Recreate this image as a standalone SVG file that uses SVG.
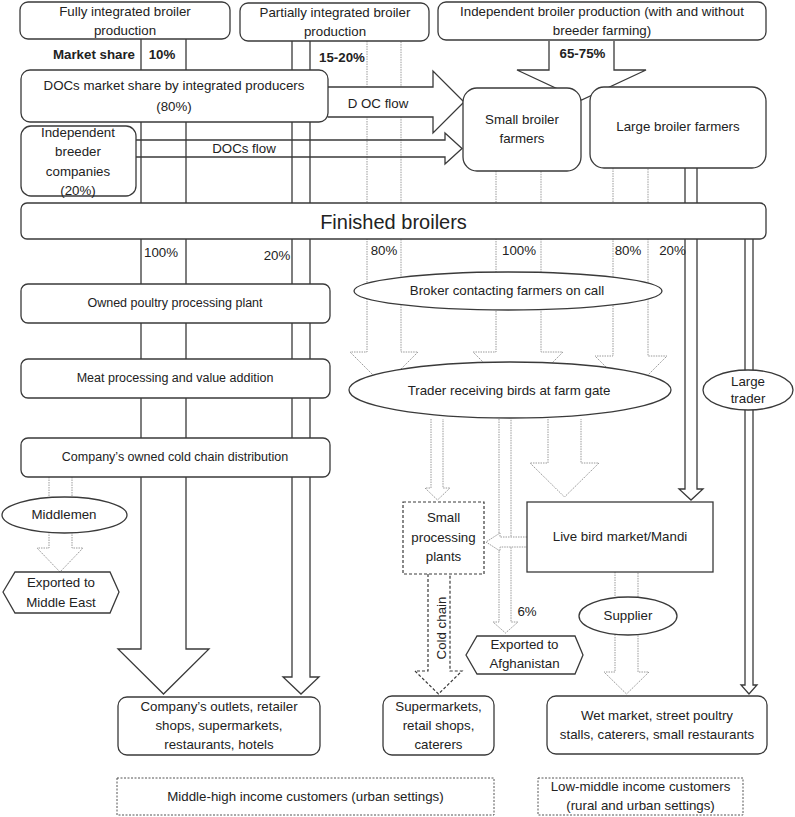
<svg xmlns="http://www.w3.org/2000/svg" width="795" height="817" viewBox="0 0 795 817">
<style>
.box{fill:#fff;stroke:#3a3a3a;stroke-width:1.3}
.dbox{fill:#fff;stroke:#3a3a3a;stroke-width:1.2;stroke-dasharray:3 2}
.ddbox{fill:#fff;stroke:#555;stroke-width:1;stroke-dasharray:2 1.5}
.sa{fill:#fff;stroke:#3a3a3a;stroke-width:1.3}
.sn{fill:none;stroke:#3a3a3a;stroke-width:1.3}
.da{fill:#fff;stroke:#9a9a9a;stroke-width:1;stroke-dasharray:1.5 1}
.ca{fill:#fff;stroke:#3a3a3a;stroke-width:1.2;stroke-dasharray:3 2}
text{font-family:"Liberation Sans",Arial,sans-serif;font-size:13.3px;fill:#222;text-anchor:middle}
.b{font-weight:bold}
.s{font-size:12.5px}
</style>
<rect width="795" height="817" fill="#fff"/>
<g id="connectors">
  <path class="sa" d="M141,39 V649 H118 L163.5,694 L209,649 H186 V39"/>
  <path class="sa" d="M292,39 V677 H283 L301,694 L319,677 H310 V39 Z"/>
  <path class="da" d="M367,41 V352 H350 L384,386 L418,352 H401 V41"/>
  <path class="da" d="M496,171 V352 H473 L518,397 L563,352 H541 V171"/>
  <path class="da" d="M613,168 V356 H595 L631,392 L667,356 H648 V168"/>
  <path class="sa" d="M685,168 V489 H679 L691,500 L703,489 H697 V168"/>
  <path class="sa" d="M745,239 V685 H741 L749,694 L757,685 H753 V239"/>
  <path class="sa" d="M549,41 V70 H517 L581.5,100 L646,70 H614 V41"/>
  <path class="sa" d="M328,87 H433 V71 L464,102 L433,133 V117 H328"/>
  <path class="sn" d="M136,140 H445 V133 L462,148.5 L445,164 V157 H136"/>
  <path class="da" d="M431,419 V488 H425 L437.5,500 L450,488 H443 V419"/>
  <path class="da" d="M548,419 V463 H530 L564.5,497 L599,463 H581 V419"/>
  <path class="da" d="M499,419 V622 H493 L505.5,633 L518,622 H511 V419"/>
  <path class="da" d="M527,537 H500 V533 L486,542 L500,551 V547 H527"/>
  <path class="da" d="M615,572 V672 H604 L626.5,694 L649,672 H638 V572"/>
  <path class="ca" d="M428,574 V671 H415 L438.5,694 L462,671 H450 V574"/>
  <path class="da" d="M49,477 V548 H37 L60,572 L83,548 H72 V477"/>
</g>
<g id="n-fully"><rect class="box" x="20" y="2" width="210" height="37" rx="8"/><text x="125" y="16">Fully integrated broiler</text><text x="125" y="35">production</text></g>
<g id="n-partial"><rect class="box" x="240" y="3" width="189" height="38" rx="8"/><text x="335" y="17">Partially integrated broiler</text><text x="335" y="36">production</text></g>
<g id="n-indep"><rect class="box" x="438" y="2" width="328" height="38" rx="8"/><text x="602" y="16">Independent  broiler production (with and without</text><text x="602" y="35">breeder farming)</text></g>
<g id="l-share"><text class="b" x="94" y="59">Market share</text><text class="b" x="162" y="59">10%</text><text class="b" x="342" y="62">15-20%</text><text class="b" x="582.5" y="58">65-75%</text></g>
<g id="n-docs"><rect class="box" x="21" y="70" width="307" height="52" rx="9"/><text x="174" y="90">DOCs market  share by integrated producers</text><text x="174" y="111">(80%)</text></g>
<g id="l-docflow"><text x="378" y="108">D OC flow</text><text x="244" y="153">DOCs flow</text></g>
<g id="n-breeder"><rect class="box" x="21" y="126" width="115" height="70" rx="10"/><text x="78" y="137">Independent</text><text x="78" y="156">breeder</text><text x="78" y="176">companies</text><text x="78" y="195">(20%)</text></g>
<g id="n-small"><rect class="box" x="463" y="88" width="118" height="83" rx="14"/><text x="522" y="124">Small broiler</text><text x="522" y="143">farmers</text></g>
<g id="n-large"><rect class="box" x="590" y="87" width="176" height="81" rx="14"/><text x="678" y="131">Large broiler farmers</text></g>
<g id="n-finished"><rect class="box" x="21" y="203" width="745" height="36" rx="6"/><text x="393.5" y="229" style="font-size:20px">Finished broilers</text></g>
<g id="l-pct"><text x="161" y="257">100%</text><text x="277" y="260">20%</text><text x="384" y="255">80%</text><text x="519" y="255">100%</text><text x="628" y="255">80%</text><text x="672.5" y="255">20%</text></g>
<g id="n-owned"><rect class="box" x="21" y="284" width="309" height="39" rx="7"/><text class="s" x="175" y="307">Owned poultry processing plant</text></g>
<g id="n-meat"><rect class="box" x="21" y="359" width="309" height="39" rx="7"/><text class="s" x="175" y="382">Meat processing and value addition</text></g>
<g id="n-coldchain"><rect class="box" x="21" y="438" width="309" height="39" rx="7"/><text class="s" x="175" y="461">Company’s owned cold chain distribution</text></g>
<g id="n-broker"><ellipse class="box" cx="508" cy="291" rx="154" ry="19"/><text x="507" y="295">Broker contacting farmers on call</text></g>
<g id="n-trader"><ellipse class="box" cx="510" cy="390" rx="161" ry="28"/><text x="509" y="395">Trader receiving birds at farm gate</text></g>
<g id="n-largetrader"><ellipse class="box" cx="748" cy="390" rx="45" ry="20"/><text x="748" y="386">Large</text><text x="748" y="403">trader</text></g>
<g id="n-middlemen"><ellipse class="box" cx="64.5" cy="515" rx="62.5" ry="18"/><text x="64" y="519">Middlemen</text></g>
<g id="n-middleeast"><polygon class="box" points="3,592 15,572 110,572 119,592 110,613 15,613"/><text x="61" y="587">Exported to</text><text x="61" y="607">Middle East</text></g>
<g id="n-smallproc"><rect class="dbox" x="403" y="502" width="81" height="72"/><text x="443.5" y="522">Small</text><text x="443.5" y="542">processing</text><text x="443.5" y="561">plants</text></g>
<g id="n-livebird"><rect class="box" x="527" y="502" width="186" height="70"/><text x="620" y="541">Live bird market/Mandi</text></g>
<g id="l-cold"><text transform="translate(446,628) rotate(-90)" x="0" y="0">Cold chain</text><text x="527" y="616">6%</text></g>
<g id="n-supplier"><ellipse class="box" cx="628" cy="616" rx="49" ry="19"/><text x="628" y="620">Supplier</text></g>
<g id="n-afghan"><polygon class="box" points="466,655 477,636 575,636 583,655 575,674 477,674"/><text x="524.5" y="649">Exported to</text><text x="524.5" y="668">Afghanistan</text></g>
<g id="n-outlets"><rect class="box" x="118" y="697" width="202" height="58" rx="9"/><text x="219" y="711">Company’s outlets, retailer</text><text x="219" y="730">shops, supermarkets,</text><text x="219" y="749">restaurants, hotels</text></g>
<g id="n-supermarkets"><rect class="box" x="383" y="696" width="111" height="59" rx="9"/><text x="438.5" y="711">Supermarkets,</text><text x="438.5" y="730">retail shops,</text><text x="438.5" y="749">caterers</text></g>
<g id="n-wet"><rect class="box" x="547" y="696" width="220" height="58" rx="9"/><text x="657" y="720">Wet market,  street poultry</text><text x="657" y="739">stalls, caterers, small restaurants</text></g>
<g id="n-midhigh"><rect class="ddbox" x="117" y="778" width="377" height="37"/><text x="305.5" y="801">Middle-high income customers (urban settings)</text></g>
<g id="n-lowmid"><rect class="ddbox" x="538" y="778" width="205" height="37"/><text x="640.5" y="791">Low-middle income customers</text><text x="640.5" y="810">(rural and urban settings)</text></g>
</svg>
